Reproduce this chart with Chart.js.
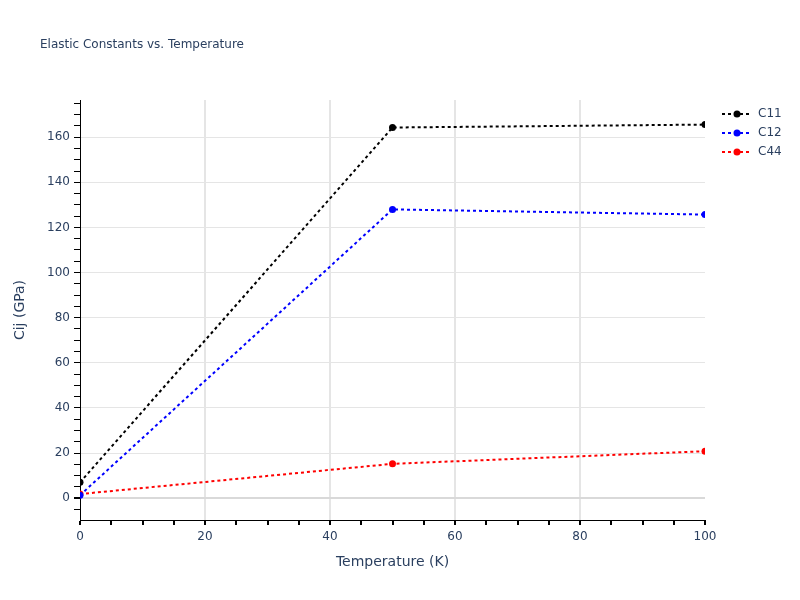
<!DOCTYPE html>
<html>
<head>
<meta charset="utf-8">
<script src="https://cdn.jsdelivr.net/npm/chart.js@4.4.1/dist/chart.umd.min.js"></script>
<style>
html,body{margin:0;padding:0;background:#fff;}
#wrap{width:800px;height:600px;position:relative;}
</style>
</head>
<body>
<div id="wrap"><canvas id="c" width="800" height="600"></canvas></div>
<script>
const chartTitle = "Elastic Constants vs. Temperature";
const xTitle = "Temperature (K)";
const yTitle = "Cij (GPa)";
const temperatures = [0, 50, 100];
const c11 = [7.0, 164.3, 165.6];
const c12 = [1.3, 128.0, 125.7];
const c44 = [1.8, 15.2, 20.8];
const seriesNames = ["C11", "C12", "C44"];
const seriesColors = ["#000000", "#0000ff", "#ff0000"];

const FONT = "'DejaVu Sans', Verdana, sans-serif";
const TXT = "#2a3f5f";

function mk(name, vals, color) {
  return {
    label: name,
    data: temperatures.map((t, i) => ({x: t, y: vals[i]})),
    borderColor: color,
    backgroundColor: color,
    borderWidth: 2,
    borderDash: [3, 3],
    pointRadius: 3.5,
    pointHoverRadius: 3.5,
    pointBorderWidth: 0,
    tension: 0,
    clip: 0
  };
}

const extras = {
  id: 'extras',
  afterDraw(chart) {
    const ctx = chart.ctx;
    ctx.save();
    ctx.fillStyle = TXT;
    ctx.font = "12px " + FONT;
    ctx.textBaseline = 'middle';
    ctx.textAlign = 'left';
    ctx.fillText(chartTitle, 40, 45);
    chart.data.datasets.forEach((ds, i) => {
      const y = 114 + i * 19;
      ctx.strokeStyle = ds.borderColor;
      ctx.lineWidth = 2;
      ctx.setLineDash([3, 3]);
      ctx.beginPath();
      ctx.moveTo(722, y);
      ctx.lineTo(752, y);
      ctx.stroke();
      ctx.setLineDash([]);
      ctx.fillStyle = ds.borderColor;
      ctx.beginPath();
      ctx.arc(737, y, 3.5, 0, Math.PI * 2);
      ctx.fill();
      ctx.fillStyle = TXT;
      ctx.font = "12px " + FONT;
      ctx.fillText(ds.label, 758, y);
    });
    ctx.restore();
  }
};

new Chart(document.getElementById('c'), {
  type: 'line',
  data: {
    datasets: [
      mk(seriesNames[0], c11, seriesColors[0]),
      mk(seriesNames[1], c12, seriesColors[1]),
      mk(seriesNames[2], c44, seriesColors[2])
    ]
  },
  options: {
    responsive: false,
    animation: false,
    layout: {padding: {left: 0, right: 95, top: 100, bottom: 0}},
    plugins: {legend: {display: false}, title: {display: false}, tooltip: {enabled: false}},
    scales: {
      x: {
        type: 'linear',
        min: 0, max: 100,
        afterFit(s) { s.height = 80; },
        border: {display: true, color: '#000', width: 1},
        grid: {
          color: c => (c.tick && c.tick.value % 20 === 0 && c.tick.value !== 0 && c.tick.value !== 100) ? '#e5e5e5' : 'rgba(0,0,0,0)',
          lineWidth: 2,
          tickColor: '#000',
          tickLength: 5,
          drawTicks: true
        },
        ticks: {
          stepSize: 5,
          includeBounds: false,
          autoSkip: false,
          maxRotation: 0,
          padding: 5,
          color: TXT,
          font: {family: FONT, size: 12},
          callback: v => (v % 20 === 0 ? String(v) : '')
        },
        title: {display: true, text: xTitle, color: TXT, font: {family: FONT, size: 14}, padding: {top: 0, bottom: 29}}
      },
      y: {
        type: 'linear',
        min: -9.7, max: 176.5,
        afterFit(s) { s.width = 80; },
        border: {display: true, color: '#000', width: 1},
        grid: {
          color: c => {
            if (!c.tick) return 'rgba(0,0,0,0)';
            if (c.tick.value === 0) return '#d9d9d9';
            return c.tick.value % 20 === 0 ? '#e5e5e5' : 'rgba(0,0,0,0)';
          },
          lineWidth: c => (c.tick && c.tick.value === 0 ? 2 : 1),
          tickColor: '#000',
          tickLength: 6,
          drawTicks: true
        },
        ticks: {
          stepSize: 5,
          includeBounds: false,
          autoSkip: false,
          padding: 4,
          color: TXT,
          font: {family: FONT, size: 12},
          callback: v => (Math.abs(v % 20) < 1e-9 ? String(v) : '')
        },
        title: {display: true, text: yTitle, color: TXT, font: {family: FONT, size: 14}, padding: {top: 12, bottom: 0}}
      }
    }
  },
  plugins: [extras]
});
</script>
</body>
</html>
